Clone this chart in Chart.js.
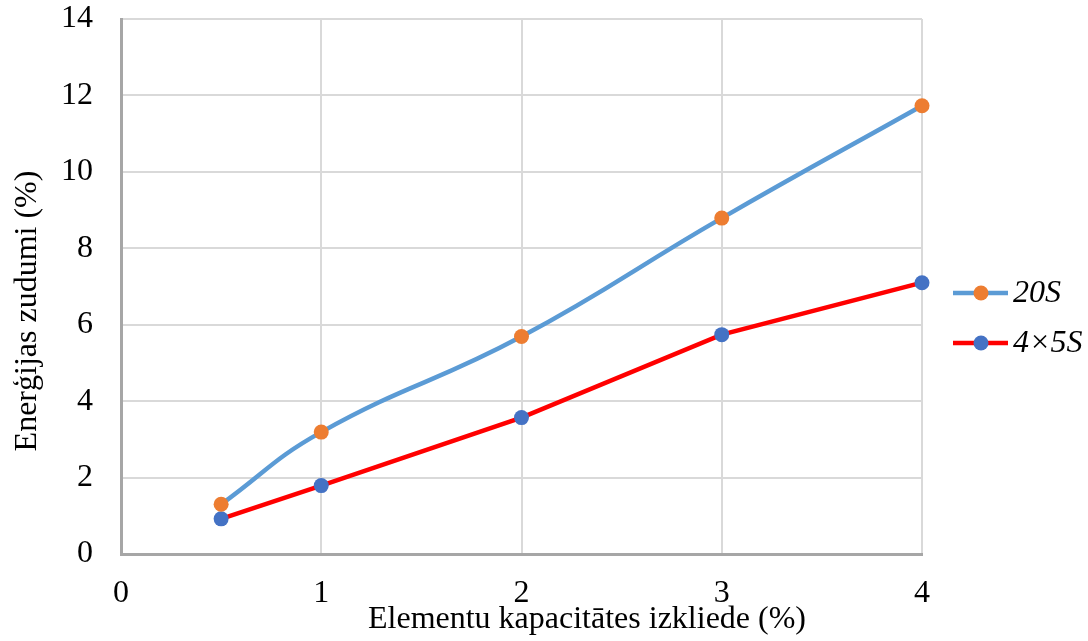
<!DOCTYPE html>
<html>
<head>
<meta charset="utf-8">
<script src="https://cdn.jsdelivr.net/npm/chart.js@4/dist/chart.umd.min.js"></script>
<style>
  html, body { margin: 0; padding: 0; background: #ffffff; }
  #wrap { position: relative; width: 1088px; height: 641px; }
</style>
</head>
<body>
<div id="wrap"><canvas id="c" width="1088" height="641"></canvas></div>
<script>
const xValues = [0.5, 1, 2, 3, 4];
const series20S = [1.30, 3.19, 5.69, 8.79, 11.73];
const series4x5S = [0.92, 1.79, 3.57, 5.74, 7.10];
const seriesNames = ['20S', '4\u00d75S'];
const xTitle = 'Elementu kapacitātes izkliede (%)';
const yTitle = 'Enerģijas zudumi (%)';

const FONT = '"Liberation Serif", "Times New Roman", serif';
const colors = {
  line20: '#5b9bd5', dot20: '#ed7d31',
  line45: '#ff0000', dot45: '#4472c4'
};

const toXY = (ys) => xValues.map((x, i) => ({ x: x, y: ys[i] }));

const customDraw = {
  id: 'customDraw',
  afterDraw(chart) {
    const ctx = chart.ctx;
    ctx.save();
    ctx.fillStyle = '#000';
    ctx.font = '32px ' + FONT;
    ctx.textAlign = 'center';
    ctx.textBaseline = 'middle';
    ctx.fillText(xTitle, 587, 620);
    ctx.save();
    ctx.translate(28, 311);
    ctx.rotate(-Math.PI / 2);
    ctx.fillText(yTitle, 0, 0);
    ctx.restore();
    const items = [
      { name: seriesNames[0], line: colors.line20, dot: colors.dot20, y: 293 },
      { name: seriesNames[1], line: colors.line45, dot: colors.dot45, y: 343 }
    ];
    items.forEach(it => {
      ctx.strokeStyle = it.line;
      ctx.lineWidth = 4.5;
      ctx.beginPath();
      ctx.moveTo(953, it.y);
      ctx.lineTo(1008, it.y);
      ctx.stroke();
      ctx.fillStyle = it.dot;
      ctx.beginPath();
      ctx.arc(981, it.y, 7.5, 0, Math.PI * 2);
      ctx.fill();
      ctx.fillStyle = '#000';
      ctx.font = 'italic 32px ' + FONT;
      ctx.textAlign = 'left';
      ctx.fillText(it.name, 1013, it.y + 1);
    });
    ctx.restore();
  }
};

new Chart(document.getElementById('c'), {
  type: 'line',
  data: {
    datasets: [
      {
        label: seriesNames[0],
        data: toXY(series20S),
        borderColor: colors.line20,
        backgroundColor: colors.dot20,
        pointBackgroundColor: colors.dot20,
        pointBorderWidth: 0,
        pointRadius: 7.5,
        borderWidth: 4.5,
        tension: 0.45,
        fill: false,
        clip: false
      },
      {
        label: seriesNames[1],
        data: toXY(series4x5S),
        borderColor: colors.line45,
        backgroundColor: colors.dot45,
        pointBackgroundColor: colors.dot45,
        pointBorderWidth: 0,
        pointRadius: 7.5,
        borderWidth: 4.5,
        tension: 0,
        fill: false,
        clip: false
      }
    ]
  },
  options: {
    responsive: false,
    animation: false,
    devicePixelRatio: 1,
    layout: { padding: { top: 19, right: 166, left: 0, bottom: 0 } },
    plugins: { legend: { display: false }, tooltip: { enabled: false } },
    scales: {
      x: {
        type: 'linear',
        min: 0, max: 4,
        ticks: { stepSize: 1, color: '#000', font: { family: FONT, size: 32 }, padding: 20 },
        grid: { color: '#d9d9d9', lineWidth: 2, drawTicks: false },
        border: { color: '#a6a6a6', width: 3 },
        afterFit(s) { s.height = 87; s.paddingLeft = 0; s.paddingRight = 0; }
      },
      y: {
        min: 0, max: 14,
        ticks: { stepSize: 2, color: '#000', font: { family: FONT, size: 32 }, padding: 28 },
        grid: { color: '#d9d9d9', lineWidth: 2, drawTicks: false },
        border: { color: '#a6a6a6', width: 3 },
        afterFit(s) { s.width = 121; s.paddingTop = 0; s.paddingBottom = 0; }
      }
    }
  },
  plugins: [customDraw]
});
</script>
</body>
</html>
